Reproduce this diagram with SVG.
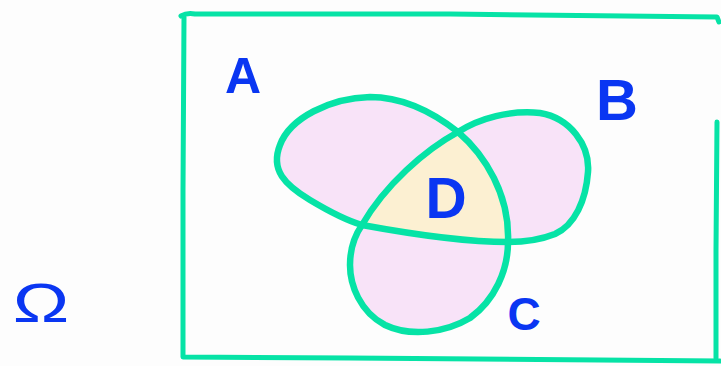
<svg xmlns="http://www.w3.org/2000/svg" width="721" height="366" viewBox="0 0 721 366">
<style>
.edge{fill:none;stroke:#06e3a6;stroke-width:6.5;stroke-linecap:round;stroke-linejoin:round}
.frame{fill:none;stroke:#06e3a6;stroke-width:5;stroke-linecap:round;stroke-linejoin:round}
.lobe{fill:#f8e3f8;stroke:none}
.core{fill:#fcf0d2;stroke:none}
.lbl{font-family:"Liberation Sans","DejaVu Sans",sans-serif;font-weight:bold;fill:#0a36f2;text-anchor:middle}
</style>
<rect width="721" height="366" fill="#fdfdfd"/>
<g id="omega-universe">
<path class="frame" d="M181,16 C186,13 190,13 195,14 L450,14 L717,17 L719,22"/>
<path class="frame" d="M184,17 L183,190 L183,357 L350,358 L720,361"/>
<path class="frame" d="M717,122 L716,250 L716,358"/>
<text class="lbl" transform="translate(41,322) scale(1.35,1)" font-size="56" font-weight="normal" style="font-weight:normal">Ω</text>
</g>
<g id="set-A">
<path class="lobe" d="M458,132 C430,110 400,97 370,97 C330,98 290,118 280,145 C270,170 285,185 310,200 C330,212 345,220 362,225 C385,185 425,150 458,132 Z"/>
<path class="edge" d="M458,132 C430,110 400,97 370,97 C330,98 290,118 280,145 C270,170 285,185 310,200 C330,212 345,220 362,225"/>
<text class="lbl" x="243" y="93" font-size="50">A</text>
</g>
<g id="set-B">
<path class="lobe" d="M458,132 C480,118 510,110 540,113 C570,118 590,145 588,172 C586,200 575,225 555,234 C540,240 525,242 508,242 C510,195 485,155 458,132 Z"/>
<path class="edge" d="M458,132 C480,118 510,110 540,113 C570,118 590,145 588,172 C586,200 575,225 555,234 C540,240 525,242 508,242"/>
<text class="lbl" x="617" y="120" font-size="58">B</text>
</g>
<g id="set-C">
<path class="lobe" d="M508,242 C508,270 495,300 470,318 C445,333 410,337 385,325 C360,312 350,285 350,265 C350,248 355,235 362,225 C400,232 460,242 508,242 Z"/>
<path class="edge" d="M508,242 C508,270 495,300 470,318 C445,333 410,337 385,325 C360,312 350,285 350,265 C350,248 355,235 362,225"/>
<text class="lbl" x="524" y="330" font-size="46">C</text>
</g>
<g id="region-D">
<path class="core" d="M458,132 C485,155 510,195 508,242 C460,242 400,232 362,225 C385,185 425,150 458,132 Z"/>
<path class="edge" d="M362,225 C385,185 425,150 458,132"/>
<path class="edge" d="M362,225 C400,232 460,242 508,242"/>
<path class="edge" d="M458,132 C485,155 510,195 508,242"/>
<text class="lbl" x="446" y="218" font-size="57">D</text>
</g>
<g id="connectors"/>
</svg>
